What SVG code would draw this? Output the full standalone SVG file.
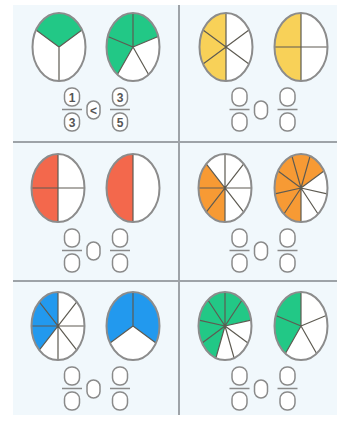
<svg xmlns="http://www.w3.org/2000/svg" width="337" height="421" viewBox="0 0 337 421">
<style>
.bg{fill:#ffffff}
.panel{fill:#f1f8fc}
.div{stroke:#9ea3a8;stroke-width:2;fill:none}
.pie{fill:#ffffff}
.rim{fill:none;stroke:#8c8c8c;stroke-width:2}
.ln{stroke:#5e5b52;stroke-width:1.2;fill:none}
.g{fill:#22c886}
.y{fill:#f8d158}
.r{fill:#f3684c}
.o{fill:#f79a34}
.b{fill:#2299ee}
.box{fill:#ffffff;stroke:#8a8a8a;stroke-width:1.5}
.bar{stroke:#8a8a8a;stroke-width:1.5}
.t{font-family:"Liberation Sans",Arial,sans-serif;font-size:12px;font-weight:bold;fill:#555;text-anchor:middle}
</style>
<defs>
<ellipse id="e" cx="0" cy="0" rx="26.5" ry="34"/>
<g id="frac">
<rect class="box" x="-7.5" y="41" width="15" height="18" rx="7"/>
<line class="bar" x1="-10" y1="62.5" x2="10" y2="62.5"/>
<rect class="box" x="-7.5" y="66" width="15" height="18" rx="7"/>
</g>
<rect id="cmp" class="box" x="-6.5" y="54" width="13" height="18" rx="6.5"/>
</defs>
<rect class="bg" x="0" y="0" width="337" height="421"/>
<rect class="panel" x="13" y="5" width="324" height="410"/>

<g id="dividers">
<line class="div" x1="179" y1="5" x2="179" y2="415"/>
<line class="div" x1="13" y1="142" x2="337" y2="142"/>
<line class="div" x1="13" y1="281" x2="337" y2="281"/>
</g>

<!-- Row 1 left -->
<g id="cell-1-1">
<g transform="translate(59,47)">
<use href="#e" class="pie"/>
<path class="g" d="M0,0 L-22.95,-17 A26.5 34 0 0 1 22.95,-17 Z"/>
<path class="ln" d="M0,0 L-22.95,-17 M0,0 L22.95,-17 M0,0 L0,34"/>
<use href="#e" class="rim"/>
</g>
<g transform="translate(133,47)">
<use href="#e" class="pie"/>
<path class="g" d="M0,0 L-15.58,27.51 A26.5 34 0 1 1 25.2,-10.51 Z"/>
<path class="ln" d="M0,0 L0,-34 M0,0 L25.2,-10.51 M0,0 L15.58,27.51 M0,0 L-15.58,27.51 M0,0 L-25.2,-10.51"/>
<use href="#e" class="rim"/>
</g>
<g transform="translate(72,47)"><use href="#frac"/>
<text class="t" x="0" y="54.5">1</text><text class="t" x="0" y="79.5">3</text></g>
<g transform="translate(93.5,47)"><use href="#cmp"/><text class="t" x="0" y="67.5">&lt;</text></g>
<g transform="translate(120,47)"><use href="#frac"/>
<text class="t" x="0" y="54.5">3</text><text class="t" x="0" y="79.5">5</text></g>
</g>

<!-- Row 1 right -->
<g id="cell-1-2">
<g transform="translate(226,47)">
<use href="#e" class="pie"/>
<path class="y" d="M0,34 A26.5 34 0 0 1 0,-34 Z"/>
<path class="ln" d="M0,-34 L0,34 M-22.95,-17 L22.95,17 M-22.95,17 L22.95,-17"/>
<use href="#e" class="rim"/>
</g>
<g transform="translate(301,47)">
<use href="#e" class="pie"/>
<path class="y" d="M0,34 A26.5 34 0 0 1 0,-34 Z"/>
<path class="ln" d="M0,-34 L0,34 M-26.5,0 L26.5,0"/>
<use href="#e" class="rim"/>
</g>
<g transform="translate(239.5,47)"><use href="#frac"/></g>
<g transform="translate(261,47)"><use href="#cmp"/></g>
<g transform="translate(287.5,47)"><use href="#frac"/></g>
</g>

<!-- Row 2 left -->
<g id="cell-2-1">
<g transform="translate(58,188)">
<use href="#e" class="pie"/>
<path class="r" d="M0,34 A26.5 34 0 0 1 0,-34 Z"/>
<path class="ln" d="M0,-34 L0,34 M-26.5,0 L26.5,0"/>
<use href="#e" class="rim"/>
</g>
<g transform="translate(133,188)">
<use href="#e" class="pie"/>
<path class="r" d="M0,34 A26.5 34 0 0 1 0,-34 Z"/>
<path class="ln" d="M0,-34 L0,34"/>
<use href="#e" class="rim"/>
</g>
<g transform="translate(72,188)"><use href="#frac"/></g>
<g transform="translate(93.5,188)"><use href="#cmp"/></g>
<g transform="translate(120,188)"><use href="#frac"/></g>
</g>

<!-- Row 2 right -->
<g id="cell-2-2">
<g transform="translate(225,188)">
<use href="#e" class="pie"/>
<path class="o" d="M0,0 L0,34 A26.5 34 0 0 1 -18.74,-24.04 Z"/>
<path class="ln" d="M0,-34 L0,34 M-26.5,0 L26.5,0 M-18.74,-24.04 L18.74,24.04 M-18.74,24.04 L18.74,-24.04"/>
<use href="#e" class="rim"/>
</g>
<g transform="translate(301,188)">
<use href="#e" class="pie"/>
<path class="o" d="M0,0 L0,34 A26.5 34 0 1 1 22.95,-17 Z"/>
<path class="ln" d="M0,0 L9.06,-31.96 M0,0 L22.95,-17 M0,0 L26.1,5.92 M0,0 L17.04,26.04 M0,0 L0,34 M0,0 L-17.04,26.04 M0,0 L-26.1,5.92 M0,0 L-22.95,-17 M0,0 L-9.06,-31.96"/>
<use href="#e" class="rim"/>
</g>
<g transform="translate(239.5,188)"><use href="#frac"/></g>
<g transform="translate(261,188)"><use href="#cmp"/></g>
<g transform="translate(287.5,188)"><use href="#frac"/></g>
</g>

<!-- Row 3 left -->
<g id="cell-3-1">
<g transform="translate(58,326)">
<use href="#e" class="pie"/>
<path class="b" d="M0,0 L-18.74,24.04 A26.5 34 0 0 1 0,-34 Z"/>
<path class="ln" d="M0,-34 L0,34 M-26.5,0 L26.5,0 M-18.74,-24.04 L18.74,24.04 M-18.74,24.04 L18.74,-24.04"/>
<use href="#e" class="rim"/>
</g>
<g transform="translate(133,326)">
<use href="#e" class="pie"/>
<path class="b" d="M0,0 L-22.95,17 A26.5 34 0 1 1 22.95,17 Z"/>
<path class="ln" d="M0,0 L0,-34 M0,0 L-22.95,17 M0,0 L22.95,17"/>
<use href="#e" class="rim"/>
</g>
<g transform="translate(72,326)"><use href="#frac"/></g>
<g transform="translate(93.5,326)"><use href="#cmp"/></g>
<g transform="translate(120,326)"><use href="#frac"/></g>
</g>

<!-- Row 3 right -->
<g id="cell-3-2">
<g transform="translate(225,326)">
<use href="#e" class="pie"/>
<path class="g" d="M0,0 L-9.06,31.96 A26.5 34 0 1 1 26.1,-5.92 Z"/>
<path class="ln" d="M0,0 L0,-34 M0,0 L17.04,-26.04 M0,0 L26.1,-5.92 M0,0 L22.95,17 M0,0 L9.06,31.96 M0,0 L-9.06,31.96 M0,0 L-22.95,17 M0,0 L-26.1,-5.92 M0,0 L-17.04,-26.04"/>
<use href="#e" class="rim"/>
</g>
<g transform="translate(301,326)">
<use href="#e" class="pie"/>
<path class="g" d="M0,0 L-15.58,27.51 A26.5 34 0 0 1 0,-34 Z"/>
<path class="ln" d="M0,0 L0,-34 M0,0 L25.2,-10.51 M0,0 L15.58,27.51 M0,0 L-15.58,27.51 M0,0 L-25.2,-10.51"/>
<use href="#e" class="rim"/>
</g>
<g transform="translate(239.5,326)"><use href="#frac"/></g>
<g transform="translate(261,326)"><use href="#cmp"/></g>
<g transform="translate(287.5,326)"><use href="#frac"/></g>
</g>
</svg>
